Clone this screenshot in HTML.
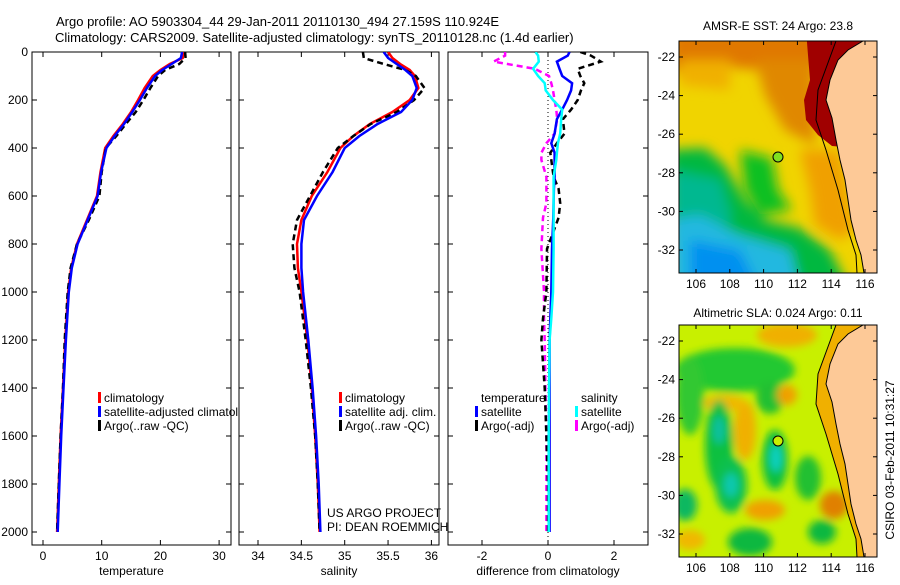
<!DOCTYPE html>
<html><head><meta charset="utf-8">
<style>
html,body{margin:0;padding:0;background:#fff;}
body{width:900px;height:580px;overflow:hidden;font-family:"Liberation Sans",sans-serif;}
svg text{font-family:"Liberation Sans",sans-serif;font-size:12px;fill:#000;}
</style></head>
<body>
<svg id="fig" width="900" height="580" viewBox="0 0 900 580" xmlns="http://www.w3.org/2000/svg">
<defs>
<filter id="blur6" x="-20%" y="-20%" width="140%" height="140%"><feGaussianBlur stdDeviation="6"/></filter>
<filter id="blur4" x="-20%" y="-20%" width="140%" height="140%"><feGaussianBlur stdDeviation="4"/></filter>
<clipPath id="clipM1"><rect x="679" y="41" width="198" height="232"/></clipPath>
<clipPath id="clipM2"><rect x="679" y="325" width="198" height="232"/></clipPath>
<clipPath id="clipP1"><rect x="32" y="52" width="199" height="493"/></clipPath>
<clipPath id="clipLeg1"><rect x="32" y="52" width="206" height="493"/></clipPath>
<clipPath id="clipP2"><rect x="239" y="52" width="200" height="493"/></clipPath>
<clipPath id="clipP3"><rect x="448" y="52" width="200" height="493"/></clipPath>
</defs>
<text x="56" y="26" style="font-size:13px">Argo profile: AO 5903304_44 29-Jan-2011 20110130_494 27.159S 110.924E</text>
<text x="55" y="42" style="font-size:13px">Climatology: CARS2009. Satellite-adjusted climatology: synTS_20110128.nc (1.4d earlier)</text>

<!-- Map 1 -->
<g clip-path="url(#clipM1)">
<rect x="679" y="41" width="198" height="232" fill="#f0d400"/>
<g filter="url(#blur6)">
<polygon points="670,30 830,30 830,65 780,72 720,66 670,72" fill="#e07800"/>
<polygon points="755,60 815,60 815,145 785,130 765,95" fill="#e08800"/>
<polygon points="670,150 705,148 725,165 745,200 765,220 800,228 830,250 850,290 670,290" fill="#00b840"/>
<polygon points="740,150 772,158 778,190 792,210 760,215 745,190" fill="#10c020"/>
<polygon points="670,170 720,180 732,220 700,240 670,240" fill="#00b890"/>
<polygon points="670,220 700,215 740,235 790,250 800,290 670,290" fill="#20b8e0"/>
<polygon points="690,240 740,250 760,290 690,290" fill="#0090f0"/>
<polygon points="800,150 840,150 855,230 840,240 815,225 810,190" fill="#f0a000"/>
<polygon points="680,60 730,60 730,90 680,85" fill="#f0b000"/>
</g>
<polygon points="806,30 880,30 880,150 832,146 818,135 806,120 804,100 810,80" fill="#a00000"/>
<polygon points="863,41 848,50 838,60 830,80 826,100 832,118 836,140 840,160 845,180 848,200 851,220 856,240 861,255 864,273 880,273 880,41" fill="#fdc997"/>
<polyline points="836,41 818,90 816,120 826,150 838,190 848,230 856,255 857,273" fill="none" stroke="#000" stroke-width="1"/>
<polyline points="863,41 848,50 838,60 830,80 826,100 832,118 836,140 840,160 845,180 848,200 851,220 856,240 861,255 864,273" fill="none" stroke="#000" stroke-width="1"/>
<circle cx="778" cy="157" r="5" fill="#80e020" stroke="#000" stroke-width="1"/>
</g>
<rect x="679" y="41" width="198" height="232" fill="none" stroke="#000" stroke-width="1"/>
<text x="778" y="30" text-anchor="middle">AMSR-E SST: 24 Argo: 23.8</text>
<g id="m1ticks"></g>

<!-- Map 2 -->
<g clip-path="url(#clipM2)">
<rect x="679" y="325" width="198" height="232" fill="#c8f000"/>
<g filter="url(#blur4)">
<ellipse cx="735" cy="370" rx="60" ry="22" fill="#20c830"/>
<ellipse cx="690" cy="395" rx="14" ry="40" fill="#30c830"/>
<ellipse cx="770" cy="398" rx="14" ry="16" fill="#20c030"/>
<ellipse cx="787" cy="335" rx="30" ry="12" fill="#f0b000"/>
<ellipse cx="787" cy="395" rx="10" ry="10" fill="#f0a000"/>
<ellipse cx="745" cy="430" rx="11" ry="30" fill="#f0b000"/>
<ellipse cx="725" cy="403" rx="22" ry="8" fill="#f0b800"/>
<ellipse cx="719" cy="445" rx="14" ry="45" fill="#10c040"/>
<ellipse cx="719" cy="430" rx="6" ry="14" fill="#10c0a0"/>
<ellipse cx="731" cy="485" rx="16" ry="28" fill="#10c050"/>
<ellipse cx="731" cy="485" rx="7" ry="12" fill="#10c8b0"/>
<ellipse cx="775" cy="460" rx="13" ry="30" fill="#10c040"/>
<ellipse cx="776" cy="458" rx="6" ry="14" fill="#10d0c0"/>
<ellipse cx="808" cy="478" rx="13" ry="22" fill="#20c030"/>
<ellipse cx="834" cy="505" rx="14" ry="14" fill="#e08000"/>
<ellipse cx="765" cy="510" rx="20" ry="10" fill="#f0a000"/>
<ellipse cx="685" cy="505" rx="12" ry="16" fill="#10b860"/>
<ellipse cx="750" cy="542" rx="22" ry="14" fill="#10b840"/>
<ellipse cx="822" cy="532" rx="14" ry="12" fill="#10b840"/>
<ellipse cx="690" cy="540" rx="15" ry="10" fill="#f0b800"/>
</g>
<polygon points="836,325 818,374 816,404 826,434 838,474 848,514 856,539 857,557 880,557 880,325" fill="#f0b000"/>
<polygon points="863,325 848,334 838,344 830,364 826,384 832,402 836,424 840,444 845,464 848,484 851,504 856,524 861,539 864,557 880,557 880,325" fill="#fdc997"/>
<polyline points="836,325 818,374 816,404 826,434 838,474 848,514 856,539 857,557" fill="none" stroke="#000" stroke-width="1"/>
<polyline points="863,325 848,334 838,344 830,364 826,384 832,402 836,424 840,444 845,464 848,484 851,504 856,524 861,539 864,557" fill="none" stroke="#000" stroke-width="1"/>
<circle cx="778" cy="441" r="5" fill="#c8f000" stroke="#000" stroke-width="1"/>
</g>
<rect x="679" y="325" width="198" height="232" fill="none" stroke="#000" stroke-width="1"/>
<text x="778" y="317" text-anchor="middle">Altimetric SLA: 0.024 Argo: 0.11</text>
<g id="m2ticks"></g>

<text transform="translate(894,460) rotate(-90)" text-anchor="middle">CSIRO 03-Feb-2011 10:31:27</text>

<g id="panels"></g>
</svg>
<script>
// ---- data ----
const depths = [0,25,50,75,100,150,200,250,300,350,400,500,600,700,800,900,1000,1200,1400,1600,1800,2000];
const tempClim = [24,23.8,21.6,20,18.7,17.3,16.2,15,13.6,12,10.6,9.8,9.2,7.5,5.8,4.8,4.3,3.8,3.4,3.0,2.7,2.4];
const tempSat  = [23.7,23.5,21.9,20.3,19.1,17.7,16.5,15.2,13.8,12.2,10.8,9.9,9.3,7.6,5.9,4.9,4.4,3.9,3.5,3.1,2.8,2.5];
const tempArgo = [24.2,24.3,23.2,20.8,19.6,18.3,17.1,15.8,14.1,12.5,10.7,10.0,9.6,7.8,5.8,4.7,4.2,3.7,3.4,3.0,2.7,2.4];
const salClim = [35.5,35.55,35.64,35.75,35.81,35.85,35.75,35.55,35.29,35.1,34.95,34.8,34.62,34.5,34.45,34.46,34.5,34.57,34.62,34.66,34.69,34.71];
const salSat  = [35.45,35.5,35.6,35.7,35.78,35.83,35.78,35.65,35.38,35.17,35.0,34.86,34.68,34.53,34.5,34.5,34.52,34.58,34.63,34.67,34.7,34.72];
const salArgo = [35.21,35.22,35.45,35.7,35.82,35.92,35.8,35.6,35.3,35.1,34.92,34.75,34.6,34.45,34.4,34.42,34.48,34.55,34.61,34.66,34.69,34.71];
const diffDepths = [0,15,40,70,100,130,160,200,240,280,340,380,420,450,520,570,630,690,820,1000,1110,1200,1400,1600,1800,2000];
const dTempSat  = [0.65,0.6,0.27,0.35,0.43,0.73,0.7,0.58,0.43,0.27,0.2,0.1,0.2,0.2,0.2,0.18,0.17,0.16,0.12,0.1,0.07,0.05,0.05,0.05,0.05,0.05];
const dTempArgo = [0.98,1.3,1.6,0.9,0.98,1.1,1.0,0.9,0.7,0.45,0.5,0.27,0.07,0.1,0.17,0.32,0.37,0.32,-0.03,-0.05,-0.15,-0.2,-0.1,-0.05,0,0];
const dSalSat   = [-0.38,-0.3,-0.28,-0.45,-0.3,-0.1,-0.07,0.15,0.43,0.4,0.37,0.3,0.27,0.25,0.17,0.17,0.17,0.17,0.17,0.15,0.1,0.05,0.03,0.02,0.02,0.02];
const dSalArgo  = [-1.3,-1.3,-1.65,-0.4,0.03,0.1,0.15,0.2,0.25,0.28,0.2,-0.05,-0.2,-0.2,-0.05,-0.05,-0.05,-0.15,-0.2,-0.12,-0.12,-0.1,-0.08,-0.05,-0.05,-0.05];
const depthTicks = [0,200,400,600,800,1000,1200,1400,1600,1800,2000];
const tempTicks = [0,10,20,30];
const salTicks = [34,34.5,35,35.5,36];
const salTickLabels = ["34","34.5","35","35.5","36"];
const diffTicks = [-2,0,2];
const latTicks = [-22,-24,-26,-28,-30,-32];
const lonTicks = [106,108,110,112,114,116];

// ---- scales ----
const NS='http://www.w3.org/2000/svg';
const yD = d => 52 + d*0.24;
const xT = t => 43 + t*5.87;
const xS = s => 258 + (s-34)*86.7;
const xF = v => 548 + v*33;
const mx = lon => 696 + (lon-106)*16.9;
const m1y = lat => 57 + (-lat-22)*19.3;
const m2y = lat => 341 + (-lat-22)*19.3;

function mk(tag, attrs, parent){ const e=document.createElementNS(NS,tag); for(const k in attrs) e.setAttribute(k,attrs[k]); parent.appendChild(e); return e; }
const root=document.getElementById('panels');

function line(parent, xs, ys, xf, yf, color, dash, name, w){
  const pts = xs.map((v,i)=>xf(v).toFixed(1)+','+yf(ys[i]).toFixed(1)).join(' ');
  const p = mk('polyline',{points:pts,fill:'none',stroke:color,'stroke-width':w||2.5,'stroke-dasharray':dash||'none'},parent);
  
  
}

function panel(x0,x1,name,ticks,labels,xf,xtitle,clip){
  const g=mk('g',{},root);
  
  
  mk('rect',{x:x0,y:52,width:x1-x0,height:493,fill:'none',stroke:'#000','stroke-width':1},g);
  depthTicks.forEach(d=>{ mk('line',{x1:x0,x2:x0+5,y1:yD(d),y2:yD(d),stroke:'#000'},g); mk('line',{x1:x1,x2:x1-5,y1:yD(d),y2:yD(d),stroke:'#000'},g); });
  ticks.forEach((t,i)=>{ const x=xf(t);
    mk('line',{x1:x,x2:x,y1:545,y2:540,stroke:'#000'},g); mk('line',{x1:x,x2:x,y1:52,y2:57,stroke:'#000'},g);
    const tx=mk('text',{x:x,y:560,'text-anchor':'middle'},g); tx.textContent=labels[i];
    
    
  });
  const tt=mk('text',{x:(x0+x1)/2,y:575,'text-anchor':'middle'},g); tt.textContent=xtitle;
  
  
  const c=mk('g',{'clip-path':'url(#'+clip+')'},g);
  return c;
}

depthTicks.forEach(d=>{ const t=mk('text',{x:28,y:yD(d)+4,'text-anchor':'end'},root); t.textContent=String(d);
  
   });

const c1=panel(32,231,'temperature-panel',tempTicks,tempTicks.map(String),xT,'temperature','clipP1');
line(c1,tempClim,depths,xT,yD,'#ff0000',null,'temp-climatology-line');
line(c1,tempArgo,depths,xT,yD,'#000000','6,4','temp-argo-line');
line(c1,tempSat,depths,xT,yD,'#0000ff',null,'temp-satellite-line');
const c2=panel(239,439,'salinity-panel',salTicks,salTickLabels,xS,'salinity','clipP2');
line(c2,salClim,depths,xS,yD,'#ff0000',null,'sal-climatology-line');
line(c2,salArgo,depths,xS,yD,'#000000','6,4','sal-argo-line');
line(c2,salSat,depths,xS,yD,'#0000ff',null,'sal-satellite-line');
const c3=panel(448,648,'difference-panel',diffTicks,diffTicks.map(String),xF,'difference from climatology','clipP3');
mk('line',{x1:xF(0),x2:xF(0),y1:52,y2:545,stroke:'#000','stroke-dasharray':'1,3'},c3);
line(c3,dSalArgo,diffDepths,xF,yD,'#ff00ff','6,4','sal-argo-diff-line');
line(c3,dTempArgo,diffDepths,xF,yD,'#000000','6,4','temp-argo-diff-line');
line(c3,dTempSat,diffDepths,xF,yD,'#0000ff',null,'temp-satellite-diff-line');
line(c3,dSalSat,diffDepths,xF,yD,'#00ffff',null,'sal-satellite-diff-line');

function leg(parent,x,y,color,label,name){
  const g=mk('g',{},parent);
  
  
  if(color) mk('rect',{x:x-6,y:y-10,width:3,height:11,fill:color},g);
  const t=mk('text',{x:x,y:y},g); t.textContent=label;
}
const lg=mk('g',{'clip-path':'url(#clipLeg1)'},root);
leg(lg,104,402,'#ff0000','climatology','legend-climatology');
leg(lg,104,416,'#0000ff','satellite-adjusted climatology','legend-satellite-adjusted');
leg(lg,104,430,'#000000','Argo(..raw -QC)','legend-argo-raw');
leg(root,345,402,'#ff0000','climatology','legend2-climatology');
leg(root,345,416,'#0000ff','satellite adj. clim.','legend2-satellite');
leg(root,345,430,'#000000','Argo(..raw -QC)','legend2-argo');
leg(root,327,517,null,'US ARGO PROJECT','project-credit');
leg(root,327,531,null,'PI: DEAN ROEMMICH','pi-credit');
leg(root,481,402,null,'temperature','legend3-temperature-heading');
leg(root,481,416,'#0000ff','satellite','legend3-temp-satellite');
leg(root,481,430,'#000000','Argo(-adj)','legend3-temp-argo');
leg(root,581,402,null,'salinity','legend3-salinity-heading');
leg(root,581,416,'#00ffff','satellite','legend3-sal-satellite');
leg(root,581,430,'#ff00ff','Argo(-adj)','legend3-sal-argo');

function mapTicks(gid,yf,top,bot){
  const g=document.getElementById(gid);
  latTicks.forEach(l=>{ const y=yf(l);
    mk('line',{x1:679,x2:683,y1:y,y2:y,stroke:'#000'},g); mk('line',{x1:877,x2:873,y1:y,y2:y,stroke:'#000'},g);
    const t=mk('text',{x:675,y:y+4,'text-anchor':'end'},g); t.textContent=String(l);
    
     });
  lonTicks.forEach(l=>{ const x=mx(l);
    mk('line',{x1:x,x2:x,y1:bot,y2:bot-4,stroke:'#000'},g); mk('line',{x1:x,x2:x,y1:top,y2:top+4,stroke:'#000'},g);
    const t=mk('text',{x:x,y:bot+15,'text-anchor':'middle'},g); t.textContent=String(l);
    
     });
}
mapTicks('m1ticks',m1y,41,273);
mapTicks('m2ticks',m2y,325,557);
</script>
</body></html>
